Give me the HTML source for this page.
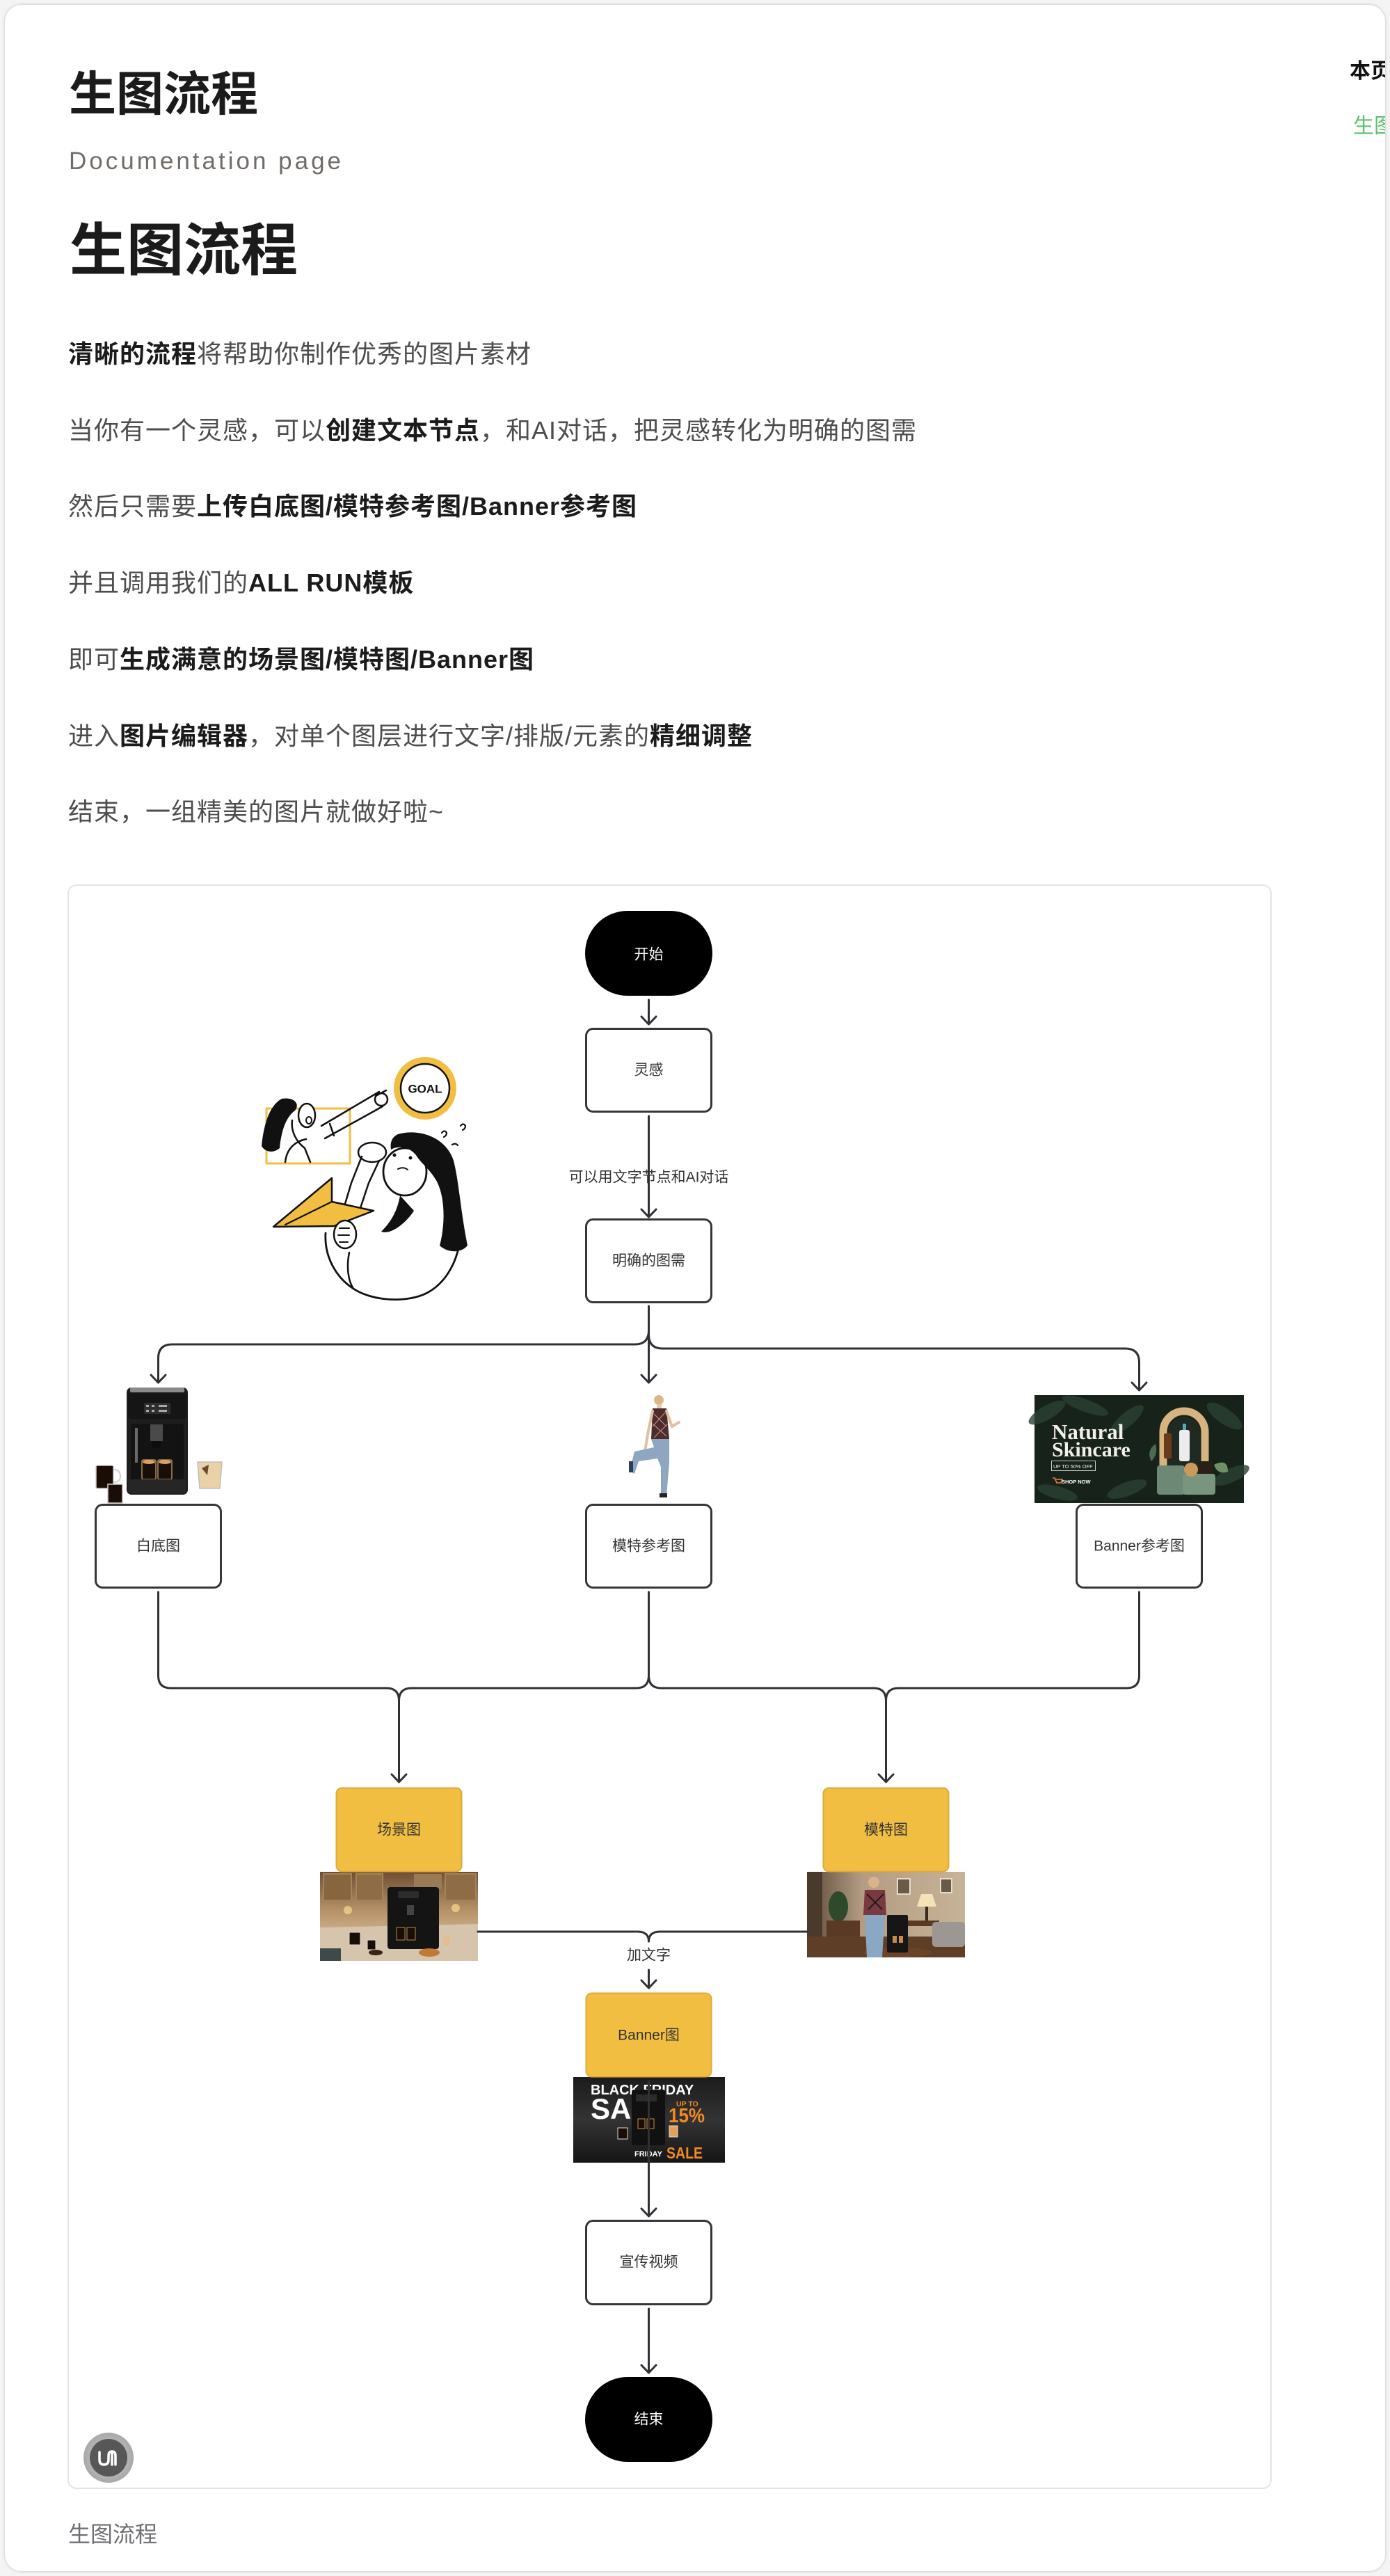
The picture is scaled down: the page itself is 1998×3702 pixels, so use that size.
<!DOCTYPE html>
<html><head><meta charset="utf-8">
<style>
html,body{margin:0;padding:0;}
body{width:1998px;height:3702px;position:relative;background:#f4f4f4;overflow:hidden;font-family:"Liberation Sans","Noto Sans CJK SC",sans-serif;}
.card{position:absolute;left:7px;top:7px;width:1984px;height:3688px;background:#fff;border-radius:24px;box-shadow:0 0 4px rgba(0,0,0,.22);}
.t{position:absolute;white-space:nowrap;margin:0;}
.h1{left:99px;top:102px;font-size:68px;line-height:68px;font-weight:700;color:#1b1b1b;}
.doc{left:99px;top:214px;font-size:35px;line-height:35px;letter-spacing:4px;color:#716c67;}
.h2{left:100px;top:320px;font-size:82px;line-height:82px;font-weight:700;color:#1b1b1b;}
.p{left:98px;font-size:36px;line-height:36px;letter-spacing:1px;color:#4d4d4d;}
.p b{color:#1b1b1b;font-weight:700;}
.side{position:absolute;left:1930px;top:70px;width:61px;height:150px;overflow:hidden;}
.side div{position:absolute;white-space:nowrap;font-size:30px;line-height:30px;}
.foot{left:98px;top:3626px;font-size:32px;line-height:32px;color:#6e6e73;}
svg{position:absolute;left:0;top:0;}
</style></head>
<body>
<div class="card"></div>

<div class="t h1">生图流程</div>
<div class="t doc">Documentation page</div>
<div class="t h2">生图流程</div>
<div class="t p" style="top:491px"><b>清晰的流程</b>将帮助你制作优秀的图片素材</div>
<div class="t p" style="top:601px">当你有一个灵感，可以<b>创建文本节点</b>，和AI对话，把灵感转化为明确的图需</div>
<div class="t p" style="top:710px">然后只需要<b>上传白底图/模特参考图/Banner参考图</b></div>
<div class="t p" style="top:820px">并且调用我们的<b>ALL RUN模板</b></div>
<div class="t p" style="top:930px">即可<b>生成满意的场景图/模特图/Banner图</b></div>
<div class="t p" style="top:1040px">进入<b>图片编辑器</b>，对单个图层进行文字/排版/元素的<b>精细调整</b></div>
<div class="t p" style="top:1149px">结束，一组精美的图片就做好啦~</div>

<div class="side">
  <div style="left:10px;top:18px;color:#111;font-weight:700;">本页目录</div>
  <div style="left:15px;top:97px;color:#5cbf6b;">生图流程</div>
</div>

<div class="t foot">生图流程</div>

<svg width="1998" height="3702" viewBox="0 0 1998 3702" xmlns="http://www.w3.org/2000/svg">
<defs>
  <linearGradient id="kg" x1="0" y1="0" x2="0" y2="1">
    <stop offset="0" stop-color="#6e4f33"/><stop offset="0.45" stop-color="#b8946a"/><stop offset="0.65" stop-color="#c9ab86"/><stop offset="1" stop-color="#8a6a4a"/>
  </linearGradient>
  <linearGradient id="lr" x1="0" y1="0" x2="1" y2="0">
    <stop offset="0" stop-color="#5c4a38"/><stop offset="0.35" stop-color="#b39c82"/><stop offset="1" stop-color="#c7b398"/>
  </linearGradient>
  <linearGradient id="bf" x1="0" y1="0" x2="0" y2="1">
    <stop offset="0" stop-color="#1c1c1c"/><stop offset="0.5" stop-color="#333"/><stop offset="1" stop-color="#161616"/>
  </linearGradient>
  <radialGradient id="lg" cx="0.5" cy="0.5" r="0.5">
    <stop offset="0" stop-color="#d6d6d6"/><stop offset="1" stop-color="#a8a8a8"/>
  </radialGradient>
</defs>

<!-- diagram container -->
<rect x="98" y="1272" width="1729" height="2304" rx="12" fill="#fff" stroke="#e4e4e4" stroke-width="2"/>

<!-- illustration -->
<g stroke-linejoin="round" stroke-linecap="round">
  <rect x="383" y="1593" width="120" height="79" fill="none" stroke="#F2BE42" stroke-width="3"/>
  <path d="M405 1579 C388 1588 379 1615 376 1647 C382 1657 394 1657 402 1650 C404 1628 410 1606 424 1596 C432 1586 422 1576 405 1579 Z" fill="#111"/>
  <ellipse cx="441" cy="1603" rx="12" ry="17" fill="#fff" stroke="#111" stroke-width="2.5"/>
  <ellipse cx="444" cy="1610" rx="4" ry="5" fill="#fff" stroke="#111" stroke-width="2"/>
  <path d="M420 1610 C418 1625 425 1640 438 1650 L446 1670" fill="none" stroke="#111" stroke-width="2.5"/>
  <path d="M410 1670 C412 1650 425 1640 440 1637" fill="none" stroke="#111" stroke-width="2.5"/>
  <path d="M462 1618 L545 1569" stroke="#111" stroke-width="2.5"/>
  <path d="M467 1636 L550 1590" stroke="#111" stroke-width="2.5"/>
  <path d="M474 1615 L480 1632" stroke="#111" stroke-width="2.5"/>
  <circle cx="548" cy="1580" r="9" fill="#fff" stroke="#111" stroke-width="2.5"/>
  <path d="M540 1575 L555 1567" stroke="#111" stroke-width="2.5"/>
  <circle cx="611" cy="1564" r="45" fill="#F2BE42"/>
  <circle cx="611" cy="1564" r="35" fill="#fff" stroke="#111" stroke-width="2.5"/>
  <text x="611" y="1565" font-family="Liberation Sans" font-weight="bold" font-size="17" text-anchor="middle" dominant-baseline="central" fill="#111">GOAL</text>
  <path d="M635 1628 q4 -5 7 0 q0 4 -4 6 M662 1618 q4 -5 7 0 q0 4 -4 6 M650 1645 q5 -3 8 1" fill="none" stroke="#111" stroke-width="2.2"/>
  <!-- main girl body -->
  <path d="M468 1772 C466 1805 482 1835 508 1852 C535 1870 585 1873 614 1858 C642 1843 660 1810 662 1772 C664 1748 655 1732 640 1726" fill="#fff" stroke="#111" stroke-width="2.8"/>
  <path d="M508 1852 C500 1840 498 1820 502 1800" fill="none" stroke="#111" stroke-width="2.5"/>
  <ellipse cx="582" cy="1684" rx="31" ry="34" fill="#fff" stroke="#111" stroke-width="2.8"/>
  <path d="M572 1630 C600 1622 640 1632 652 1668 C660 1700 662 1740 672 1790 C662 1802 642 1800 632 1790 C640 1760 640 1722 628 1698 C618 1680 605 1672 598 1660 C590 1650 575 1645 562 1652 C560 1640 565 1633 572 1630 Z" fill="#111"/>
  <path d="M575 1718 C572 1735 566 1752 548 1770 C560 1775 582 1760 595 1740" fill="#111"/>
  <ellipse cx="535" cy="1656" rx="20" ry="14" fill="#fff" stroke="#111" stroke-width="2.5"/>
  <path d="M520 1662 L505 1700 L490 1750" fill="none" stroke="#111" stroke-width="2.5"/>
  <path d="M545 1668 L530 1700 L515 1745" fill="none" stroke="#111" stroke-width="2.5"/>
  <circle cx="567" cy="1660" r="2.5" fill="#111"/><circle cx="590" cy="1664" r="2.5" fill="#111"/>
  <path d="M572 1680 q8 -4 14 1" fill="none" stroke="#111" stroke-width="2"/>
  <path d="M393 1763 L477 1693 L477 1727 L537 1740 L480 1762 Z" fill="#F2BE42" stroke="#111" stroke-width="2.5"/>
  <path d="M477 1727 L410 1760" stroke="#111" stroke-width="2.2"/>
  <ellipse cx="496" cy="1774" rx="16" ry="20" fill="#fff" stroke="#111" stroke-width="2.5"/>
  <path d="M488 1765 h14 M486 1775 h16 M488 1785 h12" stroke="#111" stroke-width="2"/>
</g>

<!-- coffee machine image -->
<g>
  <rect x="182" y="1994" width="88" height="154" rx="7" fill="#1e1e1e"/>
  <rect x="187" y="1994" width="78" height="7" rx="2" fill="#8a8a8a"/>
  <rect x="184" y="2001" width="84" height="38" rx="4" fill="#151515"/>
  <rect x="207" y="2016" width="38" height="16" rx="2" fill="#2e2e2e"/>
  <g fill="#aaa"><rect x="210" y="2019" width="4" height="3"/><rect x="218" y="2019" width="4" height="3"/><rect x="210" y="2026" width="4" height="3"/><rect x="218" y="2026" width="4" height="3"/><rect x="228" y="2019" width="12" height="3"/><rect x="228" y="2026" width="12" height="3"/></g>
  <rect x="188" y="2046" width="76" height="84" rx="3" fill="#131313"/>
  <rect x="216" y="2047" width="18" height="24" fill="#4a4a4a"/>
  <rect x="219" y="2071" width="12" height="10" fill="#0c0c0c"/>
  <rect x="194" y="2052" width="4" height="50" fill="#6a6a6a"/>
  <rect x="204" y="2098" width="20" height="28" rx="2" fill="#1a0f08" stroke="#b08a5a" stroke-width="1.5"/>
  <rect x="227" y="2098" width="20" height="28" rx="2" fill="#1a0f08" stroke="#b08a5a" stroke-width="1.5"/>
  <ellipse cx="214" cy="2101" rx="9" ry="3" fill="#d9a060"/>
  <ellipse cx="237" cy="2101" rx="9" ry="3" fill="#d9a060"/>
  <rect x="184" y="2126" width="84" height="20" rx="4" fill="#262626"/>
  <rect x="138" y="2106" width="25" height="33" rx="2" fill="#1a0d05" stroke="#cfcfcf" stroke-width="1.5"/>
  <path d="M163 2112 q10 0 10 10 q0 8 -10 8" fill="none" stroke="#cfcfcf" stroke-width="2"/>
  <rect x="155" y="2133" width="21" height="27" fill="#1a0d05" stroke="#cfcfcf" stroke-width="1.5"/>
  <path d="M284 2101 H319 L316 2139 H287 Z" fill="#ead1a8" stroke="#bdbdbd" stroke-width="1.5"/>
  <path d="M290 2110 L300 2105 L298 2120 Z" fill="#6a4a2a"/>
</g>

<!-- model figure -->
<g>
  <circle cx="947" cy="2012" r="7" fill="#d9b98a"/>
  <rect x="944" y="2018" width="7" height="6" fill="#e8c9a8"/>
  <path d="M938 2024 L958 2024 L962 2068 L936 2068 Z" fill="#4d2c2e"/>
  <path d="M940 2032 L958 2050 M938 2046 L958 2064 M956 2030 L938 2050 M960 2046 L940 2066" stroke="#b88a7a" stroke-width="1.2"/>
  <path d="M958 2028 L966 2050 L976 2044" fill="none" stroke="#e2bfa0" stroke-width="4" stroke-linecap="round"/>
  <path d="M938 2028 L932 2056 L927 2086" fill="none" stroke="#e2bfa0" stroke-width="4" stroke-linecap="round"/>
  <path d="M936 2068 L962 2068 L962 2102 L958 2150 L950 2150 L950 2108 L945 2096 L918 2100 L912 2118 L905 2114 L912 2086 L940 2080 Z" fill="#8ea6bf"/>
  <rect x="948" y="2146" width="11" height="6" fill="#222"/>
  <rect x="904" y="2100" width="6" height="16" fill="#2c3d5c"/>
</g>

<!-- skincare banner -->
<g>
  <rect x="1487" y="2005" width="301" height="155" fill="#16221a"/>
  <g fill="#2b4233" opacity="0.8">
    <ellipse cx="1505" cy="2030" rx="30" ry="10" transform="rotate(-30 1505 2030)"/>
    <ellipse cx="1560" cy="2020" rx="35" ry="9" transform="rotate(20 1560 2020)"/>
    <ellipse cx="1620" cy="2040" rx="30" ry="10" transform="rotate(-40 1620 2040)"/>
    <ellipse cx="1760" cy="2035" rx="30" ry="11" transform="rotate(35 1760 2035)"/>
    <ellipse cx="1770" cy="2120" rx="28" ry="10" transform="rotate(-25 1770 2120)"/>
    <ellipse cx="1520" cy="2145" rx="30" ry="9" transform="rotate(15 1520 2145)"/>
    <ellipse cx="1620" cy="2140" rx="30" ry="10" transform="rotate(-20 1620 2140)"/>
  </g>
  <text x="1512" y="2068" font-family="Liberation Serif" font-weight="bold" font-size="31" fill="#f2efe8">Natural</text>
  <text x="1512" y="2093" font-family="Liberation Serif" font-weight="bold" font-size="30" fill="#f2efe8">Skincare</text>
  <rect x="1511.5" y="2099.5" width="63" height="14" fill="none" stroke="#ccc" stroke-width="1"/>
  <text x="1514" y="2110" font-family="Liberation Sans" font-size="7.5" fill="#eee">UP TO 50% OFF</text>
  <path d="M1513 2124 h3 l3 7 h6 l2 -5 h-10" fill="none" stroke="#e8843a" stroke-width="1.6"/>
  <text x="1526" y="2132" font-family="Liberation Sans" font-weight="bold" font-size="7.5" fill="#fff">SHOP NOW</text>
  <path d="M1672 2108 V2058 A30 30 0 0 1 1732 2058 V2108" fill="none" stroke="#d6b47f" stroke-width="11"/>
  <path d="M1678 2108 V2060 A24 24 0 0 1 1726 2060 V2108" fill="#1e2a22"/>
  <rect x="1673" y="2060" width="11" height="36" rx="2" fill="#6b3a1a"/>
  <rect x="1695" y="2055" width="15" height="45" rx="3" fill="#ececec"/>
  <rect x="1700" y="2046" width="5" height="9" fill="#5aa7b0"/>
  <path d="M1655 2100 q-8 -15 6 -25 q4 15 -6 25" fill="#4b6a4f"/>
  <path d="M1745 2105 q20 -10 20 10 q-15 5 -20 -10" fill="#6f8f65"/>
  <rect x="1663" y="2106" width="40" height="42" rx="4" fill="#6d8874"/>
  <rect x="1700" y="2118" width="47" height="30" rx="4" fill="#7a957f"/>
  <circle cx="1712" cy="2112" r="10" fill="#c99a5c"/>
  <rect x="1722" y="2100" width="20" height="18" rx="2" fill="#2a2018"/>
</g>

<!-- scene image -->
<g>
  <rect x="460" y="2690" width="227" height="128" fill="url(#kg)"/>
  <rect x="465" y="2693" width="40" height="38" fill="#86653f" stroke="#a58356" stroke-width="2"/>
  <rect x="512" y="2693" width="38" height="38" fill="#8d6c46" stroke="#a58356" stroke-width="2"/>
  <rect x="640" y="2693" width="44" height="38" fill="#8d6c46" stroke="#a58356" stroke-width="2"/>
  <rect x="595" y="2693" width="40" height="22" fill="#9a7b55"/>
  <circle cx="500" cy="2745" r="6" fill="#f2d08a" opacity="0.8"/>
  <circle cx="655" cy="2742" r="6" fill="#f2d08a" opacity="0.8"/>
  <path d="M460 2770 L687 2765 L687 2818 L460 2818 Z" fill="#d6c4ac"/>
  <rect x="460" y="2800" width="30" height="18" fill="#3e4a4a"/>
  <rect x="557" y="2712" width="74" height="89" rx="4" fill="#141414"/>
  <rect x="572" y="2718" width="30" height="10" fill="#2c2c2c"/>
  <rect x="585" y="2738" width="10" height="14" fill="#444"/>
  <rect x="570" y="2770" width="12" height="18" fill="#1a0d05" stroke="#b08a5a"/>
  <rect x="585" y="2770" width="12" height="18" fill="#1a0d05" stroke="#b08a5a"/>
  <rect x="502" y="2777" width="16" height="18" fill="#1a0d05" stroke="#ddd"/>
  <rect x="528" y="2788" width="12" height="14" fill="#1a0d05" stroke="#ddd"/>
  <ellipse cx="617" cy="2806" rx="15" ry="6" fill="#c07a35"/>
  <ellipse cx="540" cy="2806" rx="10" ry="4" fill="#3a2416"/>
  <path d="M635 2780 h14 l-2 18 h-10 z" fill="#e0c090" stroke="#ccc"/>
</g>

<!-- living room image -->
<g>
  <rect x="1160" y="2690" width="227" height="123" fill="url(#lr)"/>
  <rect x="1160" y="2690" width="22" height="95" fill="#4a3a2c"/>
  <ellipse cx="1205" cy="2740" rx="14" ry="22" fill="#2f4a2a"/>
  <rect x="1200" y="2760" width="10" height="20" fill="#6b4a30"/>
  <rect x="1188" y="2760" width="48" height="26" fill="#5a3a24"/>
  <rect x="1290" y="2700" width="18" height="22" fill="#6a5a48" stroke="#e6dccb" stroke-width="2"/>
  <rect x="1352" y="2700" width="16" height="20" fill="#6a5a48" stroke="#e6dccb" stroke-width="2"/>
  <path d="M1160 2783 H1387 V2813 H1160 Z" fill="#5e3e26"/>
  <path d="M1318 2740 H1346 L1340 2722 H1324 Z" fill="#f3e3b6"/>
  <rect x="1330" y="2740" width="4" height="20" fill="#3a2a1a"/>
  <rect x="1300" y="2760" width="50" height="8" fill="#5a3a22"/>
  <rect x="1340" y="2762" width="47" height="36" rx="5" fill="#9c9792"/>
  <ellipse cx="1290" cy="2806" rx="50" ry="7" fill="#6a4428"/>
  <circle cx="1256" cy="2705" r="8" fill="#d9b48a"/>
  <path d="M1243 2716 H1272 L1274 2752 H1241 Z" fill="#7a3840"/>
  <path d="M1246 2722 L1268 2744 M1270 2722 L1248 2744" stroke="#1e1e1e" stroke-width="2"/>
  <path d="M1243 2752 H1272 L1268 2813 H1246 Z" fill="#8aa7c4"/>
  <rect x="1275" y="2752" width="30" height="54" rx="2" fill="#161616"/>
  <rect x="1283" y="2782" width="6" height="10" fill="#c88a4a"/>
  <rect x="1292" y="2782" width="6" height="10" fill="#c88a4a"/>
</g>

<!-- black friday banner -->
<g font-family="Liberation Sans" font-weight="bold">
  <rect x="824" y="2985" width="218" height="123" fill="url(#bf)"/>
  <text x="849" y="3010" font-size="20" fill="#fff">BLACK FRIDAY</text>
  <text x="849" y="3045" font-size="42" fill="#fff">SAL</text>
  <text x="972" y="3027" font-size="10.5" fill="#f08a24">UP TO</text>
  <text x="961" y="3050" font-size="29" fill="#f08a24" textLength="52" lengthAdjust="spacingAndGlyphs">15%</text>
  <rect x="908" y="3003" width="48" height="80" rx="3" fill="#111"/>
  <rect x="914" y="3010" width="30" height="10" fill="#2c2c2c"/>
  <rect x="917" y="3045" width="10" height="14" fill="#1a0d05" stroke="#c88a4a"/>
  <rect x="930" y="3045" width="10" height="14" fill="#1a0d05" stroke="#c88a4a"/>
  <rect x="888" y="3058" width="14" height="16" fill="#1a0d05" stroke="#ddd"/>
  <rect x="962" y="3055" width="12" height="16" fill="#e3a05a" stroke="#ddd"/>
  <text x="912" y="3099" font-size="11" fill="#fff">FRIDAY</text>
  <text x="958" y="3102" font-size="23" fill="#f08a24" textLength="52" lengthAdjust="spacingAndGlyphs">SALE</text>
</g>

<!-- connectors -->
<g fill="none" stroke="#2f3136" stroke-width="3" stroke-linecap="round" stroke-linejoin="round">
  <path d="M932.5 1437 V1471"/><path d="M922 1461 L932.5 1472 L943 1461"/>
  <path d="M932.5 1604 V1748"/><path d="M922 1738 L932.5 1749 L943 1738"/>
  <path d="M932.5 1877 V1986"/><path d="M922 1976 L932.5 1987 L943 1976"/>
  <path d="M932.5 1912 Q932.5 1932 912.5 1932 H247.5 Q227.5 1932 227.5 1952 V1986"/><path d="M217 1976 L227.5 1987 L238 1976"/>
  <path d="M932.5 1918 Q932.5 1938 952.5 1938 H1617.5 Q1637.5 1938 1637.5 1958 V1997"/><path d="M1627 1987 L1637.5 1998 L1648 1987"/>

  <path d="M227.5 2288 V2408 Q227.5 2426 245.5 2426 H555.5 Q573.5 2426 573.5 2444 V2560"/>
  <path d="M932.5 2288 V2408 Q932.5 2426 914.5 2426 H591.5 Q573.5 2426 573.5 2444"/>
  <path d="M563 2550 L573.5 2561 L584 2550"/>
  <path d="M932.5 2408 Q932.5 2426 950.5 2426 H1255.5 Q1273.5 2426 1273.5 2444 V2560"/>
  <path d="M1637.5 2288 V2408 Q1637.5 2426 1619.5 2426 H1291.5 Q1273.5 2426 1273.5 2444"/>
  <path d="M1263 2550 L1273.5 2561 L1284 2550"/>

  <path d="M687 2776 H916.5 Q932.5 2776 932.5 2790"/>
  <path d="M1160 2776 H948.5 Q932.5 2776 932.5 2790"/>
  <path d="M932.5 2831 V2856"/><path d="M922 2846 L932.5 2857 L943 2846"/>
  <path d="M932.5 2991 V3184"/><path d="M922 3174 L932.5 3185 L943 3174"/>
  <path d="M932.5 3318 V3409"/><path d="M922 3399 L932.5 3410 L943 3399"/>
</g>

<!-- nodes -->
<g>
  <rect x="841" y="1309" width="183" height="122" rx="61" fill="#000"/>
  <rect x="842.5" y="1478.5" width="180" height="119" rx="10" fill="#fff" stroke="#35363a" stroke-width="3"/>
  <rect x="842.5" y="1752.5" width="180" height="119" rx="10" fill="#fff" stroke="#35363a" stroke-width="3"/>
  <rect x="137.5" y="2162.5" width="180" height="119" rx="10" fill="#fff" stroke="#35363a" stroke-width="3"/>
  <rect x="842.5" y="2162.5" width="180" height="119" rx="10" fill="#fff" stroke="#35363a" stroke-width="3"/>
  <rect x="1547.5" y="2162.5" width="180" height="119" rx="10" fill="#fff" stroke="#35363a" stroke-width="3"/>
  <rect x="483.5" y="2569.5" width="180" height="120" rx="8" fill="#F2BE42" stroke="#DCAA3A" stroke-width="2"/>
  <rect x="1183.5" y="2569.5" width="180" height="120" rx="8" fill="#F2BE42" stroke="#DCAA3A" stroke-width="2"/>
  <rect x="842.5" y="2864.5" width="180" height="120" rx="8" fill="#F2BE42" stroke="#DCAA3A" stroke-width="2"/>
  <rect x="842.5" y="3191.5" width="180" height="120" rx="10" fill="#fff" stroke="#35363a" stroke-width="3"/>
  <rect x="841" y="3416" width="183" height="122" rx="61" fill="#000"/>
</g>

<!-- node texts -->
<g font-family="Liberation Sans, Noto Sans CJK SC, sans-serif" font-size="21" text-anchor="middle" dominant-baseline="central" fill="#333">
  <text x="932.5" y="1372" fill="#fff">开始</text>
  <text x="932.5" y="1538">灵感</text>
  <text x="932.5" y="1692">可以用文字节点和AI对话</text>
  <text x="932.5" y="1812">明确的图需</text>
  <text x="227.5" y="2222">白底图</text>
  <text x="932.5" y="2222">模特参考图</text>
  <text x="1637.5" y="2222">Banner参考图</text>
  <text x="573.5" y="2630">场景图</text>
  <text x="1273.5" y="2630">模特图</text>
  <text x="932.5" y="2810">加文字</text>
  <text x="932.5" y="2925">Banner图</text>
  <text x="932.5" y="3251">宣传视频</text>
  <text x="932.5" y="3477" fill="#fff">结束</text>
</g>

<!-- logo -->
<g>
  <circle cx="156" cy="3532" r="36" fill="url(#lg)"/>
  <circle cx="156" cy="3532" r="27" fill="#575757"/>
  <path d="M143 3524 V3535 Q143 3542 149.5 3542 Q156 3542 156 3535 V3529 Q156 3523 161 3523 Q166 3523 166 3529 V3542 M161 3523 V3542" fill="none" stroke="#fff" stroke-width="3.5" stroke-linecap="round"/>
</g>
</svg>
</body></html>
